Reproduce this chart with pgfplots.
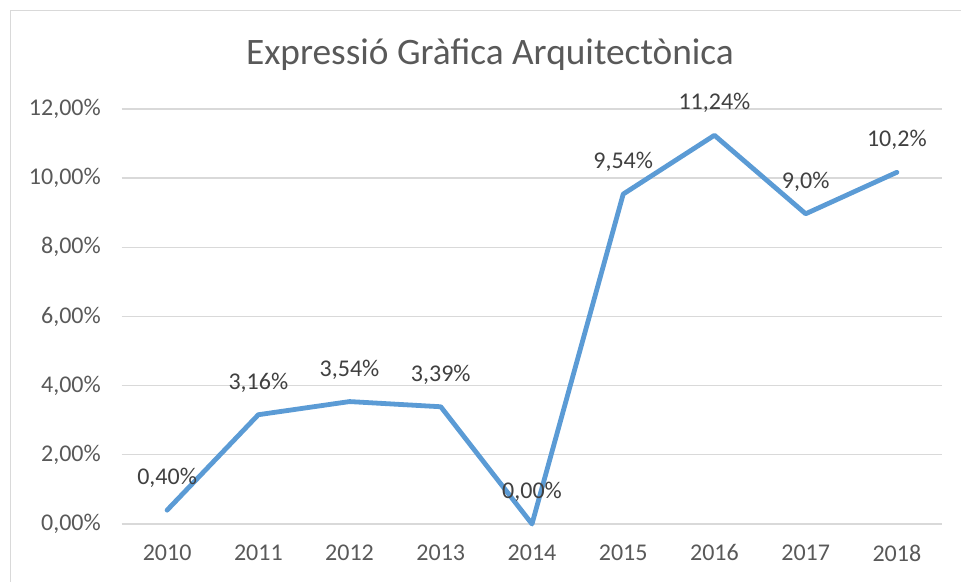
\documentclass[border=0pt]{standalone}
\usepackage{pgfplots}
\pgfplotsset{compat=1.18}
\usepackage{fontspec}
\setmainfont{Carlito}
\definecolor{lineblue}{HTML}{5B9BD5}
\definecolor{gridgray}{HTML}{D9D9D9}
\definecolor{ticktxt}{HTML}{595959}
\definecolor{labtxt}{HTML}{404040}
\begin{document}
\begin{tikzpicture}
\path[use as bounding box] (0pt,0pt) rectangle (720.75pt,436.5pt);
\draw[gridgray,line width=1pt] (7.875pt,0pt) -- (7.875pt,428.6pt) -- (720.75pt,428.6pt);
\node[text=ticktxt,font=\fontsize{28pt}{32pt}\selectfont] at (367.5pt,395.25pt) {Expressió Gràfica Arquitectònica};
\begin{axis}[
  at={(91.125pt,43.5pt)}, anchor=south west,
  scale only axis, width=615.75pt, height=311.25pt,
  xmin=-0.5, xmax=8.5, ymin=0, ymax=12,
  xtick={0,...,8},
  xticklabels={2010,2011,2012,2013,2014,2015,2016,2017,2018},
  ytick={0,2,...,12},
  yticklabels={{0,00\%},{2,00\%},{4,00\%},{6,00\%},{8,00\%},{10,00\%},{12,00\%}},
  ymajorgrids, grid style={gridgray,line width=1pt},
  axis line style={draw=none},
  major tick length=0pt,
  tick label style={text=ticktxt,font=\fontsize{18pt}{21pt}\selectfont},
  yticklabel style={xshift=-12pt},
  xticklabel style={yshift=-12pt},
  clip=false,
]
\addplot[lineblue,line width=3.6pt,line join=round,line cap=round,
  nodes near coords, point meta=explicit symbolic,
  every node near coord/.style={anchor=center,yshift=24pt,text=labtxt,font=\fontsize{18pt}{21pt}\selectfont}]
 table[meta=lab] {
x y lab
0 0.40 {0,40\%}
1 3.16 {3,16\%}
2 3.54 {3,54\%}
3 3.39 {3,39\%}
4 0.00 {0,00\%}
5 9.54 {9,54\%}
6 11.24 {11,24\%}
7 8.97 {9,0\%}
8 10.17 {10,2\%}
};
\end{axis}
\end{tikzpicture}
\end{document}
